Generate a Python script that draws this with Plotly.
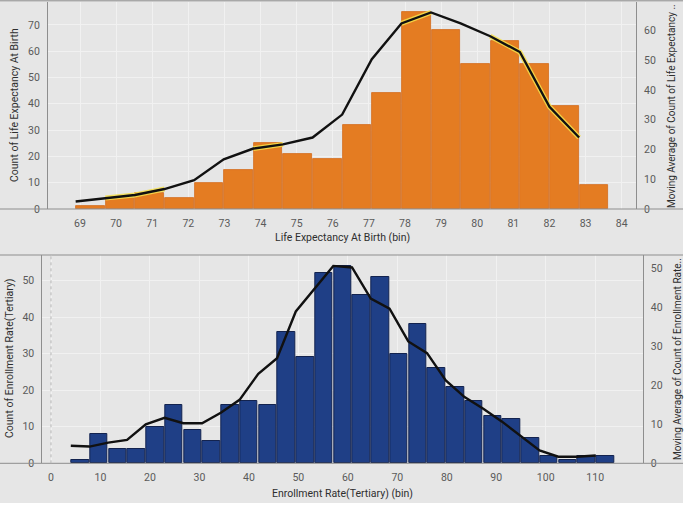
import plotly.graph_objects as go

# ---------------- data ----------------
life_bin_start = [68.88, 69.70, 70.52, 71.34, 72.16, 72.98, 73.80, 74.62, 75.44,
                  76.26, 77.08, 77.90, 78.72, 79.54, 80.36, 81.18, 82.00, 82.82]
life_bin_size = 0.82
life_counts = [1, 4, 6, 4, 10, 15, 25, 21, 19, 32, 44, 75, 68, 55, 64, 55, 39, 9]
life_moving_avg = [2.5, 3.7, 4.7, 6.7, 9.7, 16.7, 20.3, 21.7, 24.0, 31.7, 50.3,
                   62.3, 66.0, 62.3, 58.0, 52.7, 34.3, 24.0]
life_ticks = list(range(69, 85))

enroll_bin_start = [4.00, 7.79, 11.58, 15.37, 19.16, 22.95, 26.74, 30.53, 34.32,
                    38.11, 41.90, 45.69, 49.48, 53.27, 57.06, 60.85, 64.64, 68.43,
                    72.22, 76.01, 79.80, 83.59, 87.38, 91.17, 94.96, 98.75, 102.54,
                    106.33, 110.12]
enroll_bin_size = 3.79
enroll_counts = [1, 8, 4, 4, 10, 16, 9, 6, 16, 17, 16, 36, 29, 52, 54, 46, 51, 30,
                 38, 26, 21, 17, 13, 12, 7, 2, 1, 2, 2]
enroll_moving_avg = [4.5, 4.3, 5.3, 6.0, 10.0, 11.7, 10.3, 10.3, 13.0, 16.3, 23.0,
                     27.0, 39.0, 45.0, 50.7, 50.3, 42.3, 39.7, 31.3, 28.3, 21.3,
                     17.0, 14.0, 10.7, 7.0, 3.3, 1.7, 1.7, 2.0]
enroll_ticks = list(range(0, 111, 10))

# segments of the top line drawn with Tableau's yellow highlight
life_halo_idx = [1, 2, 3, 6, 7, 11, 12, 14, 15, 16, 17]

# ---------------- styling ----------------
W, H = 685, 506
BG = "#E6E6E6"
GRID = "#F1F1F1"
AXIS = "#8E8E8E"
TICKC = "#5A5A5A"
TITLEC = "#2E2E2E"
FONT = "Roboto"


def px(x):
    return x / W


def py(y):
    return 1 - y / H


fig = go.Figure()

# top histogram
fig.add_trace(go.Bar(
    x=[s + life_bin_size / 2 for s in life_bin_start], y=life_counts,
    width=[life_bin_size * 0.965] * len(life_counts),
    marker=dict(color="#E47C22", line=dict(color="#D2691A", width=0.8)),
    xaxis="x", yaxis="y", showlegend=False, hoverinfo="x+y"))

halo_y = [v if i in life_halo_idx else None for i, v in enumerate(life_moving_avg)]
fig.add_trace(go.Scatter(
    x=life_bin_start, y=halo_y, mode="lines",
    line=dict(color="#F6E04C", width=5), opacity=0.85,
    xaxis="x", yaxis="y2", showlegend=False, hoverinfo="skip", connectgaps=False))
fig.add_trace(go.Scatter(
    x=life_bin_start, y=life_moving_avg, mode="lines",
    line=dict(color="#111111", width=2.4),
    xaxis="x", yaxis="y2", showlegend=False))

# bottom histogram
fig.add_trace(go.Bar(
    x=[s + enroll_bin_size / 2 for s in enroll_bin_start], y=enroll_counts,
    width=[enroll_bin_size * 0.94] * len(enroll_counts),
    marker=dict(color="#1F3F86", line=dict(color="#13234F", width=1)),
    xaxis="x2", yaxis="y3", showlegend=False, hoverinfo="x+y"))
fig.add_trace(go.Scatter(
    x=enroll_bin_start, y=enroll_moving_avg, mode="lines",
    line=dict(color="#111111", width=2.4),
    xaxis="x2", yaxis="y4", showlegend=False))

tickfont = dict(family=FONT, size=10.5, color=TICKC)

top_dom_x = [px(48), px(636)]
top_dom_y = [py(209), py(2)]
bot_dom_x = [px(42.3), px(642.7)]
bot_dom_y = [py(463.3), py(255)]

common_x = dict(showline=False, zeroline=False, ticks="", tickfont=tickfont,
                showgrid=True, gridcolor=GRID, gridwidth=1, automargin=False,
                ticklabelstandoff=6)
common_y = dict(showline=True, linecolor=AXIS, linewidth=1, zeroline=False,
                ticks="", tickfont=tickfont, automargin=False,
                ticklabelstandoff=5)

fig.update_layout(
    width=W, height=H,
    margin=dict(l=0, r=0, t=0, b=0),
    paper_bgcolor=BG, plot_bgcolor=BG,
    font=dict(family=FONT, color=TITLEC),
    bargap=0,
    xaxis=dict(common_x, domain=top_dom_x, range=[68.114, 84.396],
               tickmode="array", tickvals=life_ticks, anchor="y"),
    yaxis=dict(common_y, domain=top_dom_y, range=[0, 78.7],
               tickvals=list(range(0, 71, 10)), showgrid=True, gridcolor=GRID,
               anchor="x"),
    yaxis2=dict(common_y, overlaying="y", side="right", anchor="x",
                range=[0, 69.5], tickvals=list(range(0, 61, 10)), showgrid=False),
    xaxis2=dict(common_x, domain=bot_dom_x, range=[-1.76, 119.6],
                tickmode="array", tickvals=enroll_ticks, anchor="y3"),
    yaxis3=dict(common_y, domain=bot_dom_y, range=[0, 57],
                tickvals=list(range(0, 51, 10)), showgrid=True, gridcolor=GRID,
                anchor="x2"),
    yaxis4=dict(common_y, overlaying="y3", side="right", anchor="x2",
                range=[0, 53.5], tickvals=list(range(0, 51, 10)), showgrid=False),
)

shapes = []
# full-width frame lines of the Tableau panes
for yy in (0.8, 209, 255, 463.3):
    shapes.append(dict(type="line", xref="paper", yref="paper", x0=0, x1=px(683),
                       y0=py(yy), y1=py(yy), line=dict(color=AXIS, width=1)))
# dotted zero reference on the bottom chart
shapes.append(dict(type="line", xref="x2", yref="paper", x0=0, x1=0,
                   y0=py(463.3), y1=py(255),
                   line=dict(color="#B5B5B5", width=1, dash="dot")))
# white strips at the right and bottom edges
shapes.append(dict(type="rect", xref="paper", yref="paper", x0=px(683), x1=1,
                   y0=0, y1=1, fillcolor="white", line=dict(width=0), layer="below"))
shapes.append(dict(type="rect", xref="paper", yref="paper", x0=0, x1=1,
                   y0=0, y1=py(503), fillcolor="white", line=dict(width=0), layer="below"))
fig.update_layout(shapes=shapes)

tfont = dict(family=FONT, size=10.5, color=TITLEC)
rfont = dict(family=FONT, size=10, color=TITLEC)
ann = [
    dict(text="Count of Life Expectancy At Birth", x=px(14), y=py(105), textangle=-90, font=tfont),
    dict(text="Moving Average of Count of Life Expectancy ..", x=px(671), y=py(106), textangle=-90, font=rfont),
    dict(text="Life Expectancy At Birth (bin)", x=px(342), y=py(238), textangle=0, font=tfont),
    dict(text="Count of Enrollment Rate(Tertiary)", x=px(9), y=py(358), textangle=-90, font=tfont),
    dict(text="Moving Average of Count of Enrollment Rate..", x=px(677), y=py(359), textangle=-90, font=rfont),
    dict(text="Enrollment Rate(Tertiary) (bin)", x=px(342), y=py(493), textangle=0, font=tfont),
]
fig.update_layout(annotations=[dict(a, xref="paper", yref="paper", showarrow=False,
                                    xanchor="center", yanchor="middle")
                               for a in ann])

fig.write_html("out.html",
               config={"displayModeBar": False},
               post_script="document.body.style.margin='0';document.body.style.overflow='hidden';")
